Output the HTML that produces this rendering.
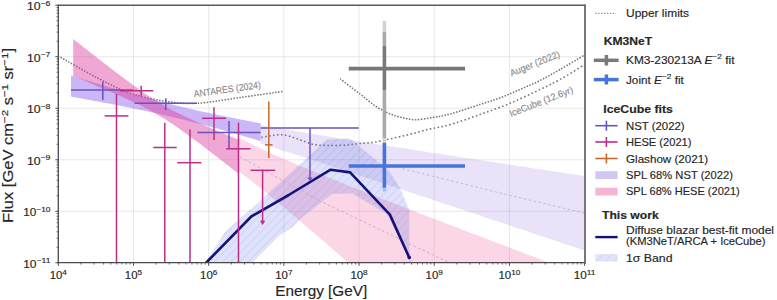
<!DOCTYPE html><html><head><meta charset="utf-8"><style>html,body{margin:0;padding:0;background:#fff;}svg{display:block;font-family:"Liberation Sans",sans-serif;}</style></head><body>
<svg width="777" height="300" viewBox="0 0 777 300">
<defs><clipPath id="pc"><rect x="58" y="5" width="526.3" height="258"/></clipPath><pattern id="hatch" patternUnits="userSpaceOnUse" width="6" height="6" patternTransform="rotate(45)"><line x1="0" y1="0" x2="0" y2="6" stroke="rgb(70,90,210)" stroke-opacity="0.2" stroke-width="1.1"/></pattern><pattern id="hatchL" patternUnits="userSpaceOnUse" width="6" height="6" patternTransform="rotate(45)"><rect width="6" height="6" fill="#dfe4fa"/><line x1="0" y1="0" x2="0" y2="6" stroke="#c2ccef" stroke-width="1.1"/></pattern></defs>
<g stroke="#e2e2e2" stroke-width="0.8"><line x1="133.49" y1="5.2" x2="133.49" y2="262.8"/><line x1="208.67" y1="5.2" x2="208.67" y2="262.8"/><line x1="283.86" y1="5.2" x2="283.86" y2="262.8"/><line x1="359.04" y1="5.2" x2="359.04" y2="262.8"/><line x1="434.23" y1="5.2" x2="434.23" y2="262.8"/><line x1="509.41" y1="5.2" x2="509.41" y2="262.8"/><line x1="58.3" y1="211.28" x2="584.6" y2="211.28"/><line x1="58.3" y1="159.76" x2="584.6" y2="159.76"/><line x1="58.3" y1="108.24" x2="584.6" y2="108.24"/><line x1="58.3" y1="56.72" x2="584.6" y2="56.72"/></g>
<g clip-path="url(#pc)">
<path d="M58.00,55.80 C64.67,59.55 86.00,72.10 98.00,78.30 C110.00,84.50 118.83,89.18 130.00,93.00 C141.17,96.82 153.83,99.48 165.00,101.20 C176.17,102.92 184.50,103.92 197.00,103.30 C209.50,102.68 225.62,99.48 240.00,97.50 C254.38,95.52 276.08,92.42 283.30,91.40" fill="none" stroke="#767676" stroke-width="1.55" stroke-dasharray="1.5,1.5" stroke-linecap="butt" stroke-linejoin="round"/>
<path d="M340.00,78.75 C343.33,81.29 354.00,89.38 360.00,94.00 C366.00,98.62 371.33,103.33 376.00,106.50 C380.67,109.67 384.00,111.25 388.00,113.00 C392.00,114.75 395.50,115.88 400.00,117.00 C404.50,118.12 409.33,119.67 415.00,119.70 C420.67,119.73 428.17,118.15 434.00,117.20 C439.83,116.25 442.33,116.12 450.00,114.00 C457.67,111.88 471.67,107.18 480.00,104.50 C488.33,101.82 493.33,100.40 500.00,97.90 C506.67,95.40 513.33,92.40 520.00,89.50 C526.67,86.60 533.33,83.83 540.00,80.50 C546.67,77.17 552.57,73.75 560.00,69.50 C567.43,65.25 580.50,57.42 584.60,55.00" fill="none" stroke="#767676" stroke-width="1.55" stroke-dasharray="1.5,1.5" stroke-linecap="butt" stroke-linejoin="round"/>
<path d="M261.20,137.40 C263.00,137.08 268.37,135.93 272.00,135.50 C275.63,135.07 279.17,134.38 283.00,134.80 C286.83,135.22 291.17,136.80 295.00,138.00 C298.83,139.20 302.33,140.83 306.00,142.00 C309.67,143.17 311.08,144.45 317.00,145.00 C322.92,145.55 334.33,145.55 341.50,145.30 C348.67,145.05 354.42,144.05 360.00,143.50 C365.58,142.95 367.50,143.33 375.00,142.00 C382.50,140.67 395.83,137.67 405.00,135.50 C414.17,133.33 422.50,130.80 430.00,129.00 C437.50,127.20 441.67,127.12 450.00,124.70 C458.33,122.28 470.00,118.07 480.00,114.50 C490.00,110.93 500.00,107.47 510.00,103.30 C520.00,99.13 531.67,93.47 540.00,89.50 C548.33,85.53 552.57,83.65 560.00,79.50 C567.43,75.35 580.50,67.08 584.60,64.60" fill="none" stroke="#767676" stroke-width="1.55" stroke-dasharray="1.6,2.4" stroke-linecap="butt" stroke-linejoin="round"/>
<polygon points="238.50,137.48 244.28,140.47 250.05,143.37 255.82,146.17 261.60,148.91 267.38,151.58 273.15,154.19 278.93,156.75 284.70,159.27 290.48,161.75 296.25,164.21 302.02,166.63 307.80,169.03 313.57,171.41 319.35,173.78 325.12,176.12 330.90,178.45 336.68,180.77 342.45,183.08 348.23,185.38 354.00,187.66 359.77,189.94 365.55,192.22 371.32,194.48 377.10,196.74 382.88,199.00 388.65,201.24 394.43,203.49 400.20,205.73 405.98,207.96 411.75,210.20 417.52,212.43 423.30,214.65 429.07,216.88 434.85,219.10 440.62,221.32 446.40,223.53 452.18,225.75 457.95,227.96 463.73,230.17 469.50,232.38 475.27,234.58 481.05,236.79 486.82,238.99 492.60,241.20 498.38,243.40 504.15,245.60 509.93,247.80 515.70,250.00 521.48,252.19 527.25,254.39 533.02,256.58 538.80,258.78 544.58,260.97 550.35,263.16 556.12,265.36 561.90,267.55 567.67,269.74 573.45,271.93 579.23,274.12 585.00,276.31 585.00,472.88 579.23,467.73 573.45,462.57 567.67,457.42 561.90,452.27 556.12,447.11 550.35,441.96 544.58,436.81 538.80,431.66 533.02,426.51 527.25,421.36 521.48,416.21 515.70,411.07 509.93,405.92 504.15,400.77 498.38,395.63 492.60,390.49 486.82,385.35 481.05,380.21 475.27,375.07 469.50,369.93 463.73,364.79 457.95,359.66 452.18,354.53 446.40,349.40 440.62,344.27 434.85,339.15 429.07,334.02 423.30,328.90 417.52,323.78 411.75,318.67 405.98,313.56 400.20,308.45 394.43,303.35 388.65,298.25 382.88,293.15 377.10,288.06 371.32,282.98 365.55,277.90 359.77,272.83 354.00,267.76 348.23,262.71 342.45,257.66 336.68,252.62 330.90,247.60 325.12,242.59 319.35,237.59 313.57,232.60 307.80,227.64 302.02,222.70 296.25,217.78 290.48,212.89 284.70,208.03 278.93,203.20 273.15,198.42 267.38,193.69 261.60,189.01 255.82,184.40 250.05,179.87 244.28,175.42 238.50,171.07" fill="rgb(240,90,160)" fill-opacity="0.25"/>
<polygon points="260.70,125.26 266.10,126.20 271.51,127.13 276.91,128.05 282.32,128.96 287.72,129.87 293.13,130.76 298.53,131.66 303.94,132.54 309.34,133.42 314.75,134.30 320.15,135.17 325.56,136.04 330.97,136.90 336.37,137.77 341.77,138.63 347.18,139.48 352.58,140.34 357.99,141.19 363.39,142.04 368.80,142.89 374.20,143.74 379.61,144.58 385.01,145.42 390.42,146.27 395.82,147.11 401.23,147.95 406.63,148.79 412.04,149.62 417.44,150.46 422.85,151.30 428.25,152.13 433.66,152.97 439.06,153.80 444.47,154.64 449.88,155.47 455.28,156.30 460.69,157.13 466.09,157.96 471.50,158.79 476.90,159.62 482.31,160.45 487.71,161.28 493.12,162.11 498.52,162.94 503.92,163.76 509.33,164.59 514.74,165.42 520.14,166.24 525.55,167.07 530.95,167.90 536.36,168.72 541.76,169.55 547.16,170.37 552.57,171.20 557.97,172.02 563.38,172.85 568.79,173.67 574.19,174.50 579.60,175.32 585.00,176.14 585.00,250.67 579.60,248.86 574.19,247.05 568.79,245.24 563.38,243.43 557.97,241.62 552.57,239.81 547.16,238.00 541.76,236.20 536.36,234.39 530.95,232.58 525.55,230.77 520.14,228.97 514.74,227.16 509.33,225.35 503.92,223.55 498.52,221.74 493.12,219.94 487.71,218.13 482.31,216.33 476.90,214.52 471.50,212.72 466.09,210.92 460.69,209.11 455.28,207.31 449.88,205.51 444.47,203.71 439.06,201.91 433.66,200.11 428.25,198.31 422.85,196.51 417.44,194.72 412.04,192.92 406.63,191.13 401.23,189.33 395.82,187.54 390.42,185.75 385.01,183.96 379.61,182.17 374.20,180.38 368.80,178.59 363.39,176.81 357.99,175.02 352.58,173.24 347.18,171.46 341.77,169.69 336.37,167.91 330.97,166.14 325.56,164.37 320.15,162.61 314.75,160.85 309.34,159.09 303.94,157.34 298.53,155.59 293.13,153.85 287.72,152.11 282.32,150.38 276.91,148.66 271.51,146.95 266.10,145.25 260.70,143.56" fill="rgb(147,112,219)" fill-opacity="0.2"/>
<polygon points="71.00,75.58 74.16,76.55 77.32,77.51 80.48,78.48 83.65,79.44 86.81,80.39 89.97,81.35 93.13,82.30 96.29,83.25 99.45,84.20 102.62,85.14 105.78,86.08 108.94,87.01 112.10,87.94 115.26,88.87 118.42,89.79 121.59,90.70 124.75,91.62 127.91,92.52 131.07,93.42 134.23,94.32 137.39,95.20 140.56,96.08 143.72,96.96 146.88,97.82 150.04,98.68 153.20,99.53 156.37,100.37 159.53,101.21 162.69,102.03 165.85,102.84 169.01,103.65 172.17,104.45 175.33,105.23 178.50,106.01 181.66,106.78 184.82,107.53 187.98,108.28 191.14,109.02 194.31,109.75 197.47,110.47 200.63,111.18 203.79,111.88 206.95,112.57 210.11,113.26 213.28,113.93 216.44,114.60 219.60,115.26 222.76,115.92 225.92,116.57 229.08,117.21 232.24,117.84 235.41,118.47 238.57,119.10 241.73,119.72 244.89,120.33 248.05,120.95 251.22,121.55 254.38,122.15 257.54,122.75 260.70,123.35 260.70,141.16 257.54,140.22 254.38,139.28 251.22,138.34 248.05,137.41 244.89,136.48 241.73,135.55 238.57,134.64 235.41,133.72 232.24,132.81 229.08,131.91 225.92,131.01 222.76,130.12 219.60,129.24 216.44,128.36 213.28,127.49 210.11,126.63 206.95,125.77 203.79,124.93 200.63,124.09 197.47,123.26 194.31,122.44 191.14,121.63 187.98,120.83 184.82,120.04 181.66,119.26 178.50,118.48 175.33,117.72 172.17,116.97 169.01,116.23 165.85,115.49 162.69,114.77 159.53,114.05 156.37,113.35 153.20,112.65 150.04,111.96 146.88,111.28 143.72,110.61 140.56,109.94 137.39,109.28 134.23,108.63 131.07,107.98 127.91,107.35 124.75,106.71 121.59,106.08 118.42,105.46 115.26,104.84 112.10,104.23 108.94,103.62 105.78,103.02 102.62,102.42 99.45,101.82 96.29,101.23 93.13,100.64 89.97,100.05 86.81,99.46 83.65,98.88 80.48,98.30 77.32,97.73 74.16,97.15 71.00,96.58" fill="rgb(140,95,235)" fill-opacity="0.45"/>
<polygon points="73.20,39.02 75.95,41.19 78.71,43.36 81.47,45.52 84.22,47.68 86.98,49.84 89.73,52.00 92.49,54.15 95.24,56.30 98.00,58.44 100.75,60.58 103.51,62.72 106.26,64.84 109.02,66.97 111.77,69.08 114.53,71.19 117.28,73.29 120.04,75.37 122.79,77.45 125.55,79.51 128.30,81.56 131.06,83.59 133.81,85.60 136.56,87.59 139.32,89.55 142.07,91.48 144.83,93.39 147.59,95.26 150.34,97.09 153.10,98.88 155.85,100.62 158.61,102.32 161.36,103.97 164.12,105.58 166.87,107.14 169.62,108.66 172.38,110.13 175.13,111.57 177.89,112.97 180.65,114.34 183.40,115.68 186.16,117.00 188.91,118.30 191.67,119.57 194.42,120.83 197.18,122.08 199.93,123.31 202.69,124.53 205.44,125.74 208.19,126.93 210.95,128.13 213.71,129.31 216.46,130.49 219.22,131.66 221.97,132.83 224.73,133.99 227.48,135.15 230.24,136.30 232.99,137.45 235.75,138.60 238.50,139.75 238.50,173.71 235.75,171.55 232.99,169.39 230.24,167.24 227.48,165.08 224.73,162.93 221.97,160.79 219.22,158.65 216.46,156.52 213.71,154.39 210.95,152.27 208.19,150.15 205.44,148.04 202.69,145.95 199.93,143.86 197.18,141.78 194.42,139.72 191.67,137.67 188.91,135.64 186.16,133.63 183.40,131.64 180.65,129.68 177.89,127.74 175.13,125.84 172.38,123.97 169.62,122.14 166.87,120.35 164.12,118.60 161.36,116.90 158.61,115.25 155.85,113.64 153.10,112.08 150.34,110.56 147.59,109.08 144.83,107.65 142.07,106.24 139.32,104.87 136.56,103.53 133.81,102.21 131.06,100.92 128.30,99.64 125.55,98.38 122.79,97.13 120.04,95.90 117.28,94.68 114.53,93.48 111.77,92.28 109.02,91.08 106.26,89.90 103.51,88.72 100.75,87.55 98.00,86.38 95.24,85.22 92.49,84.06 89.73,82.91 86.98,81.76 84.22,80.61 81.47,79.46 78.71,78.32 75.95,77.18 73.20,76.04" fill="rgb(220,60,160)" fill-opacity="0.45"/>
<polygon points="205.00,263.00 225.00,232.00 261.00,200.00 327.00,139.50 350.00,138.50 378.00,161.70 389.00,171.00 400.00,188.00 409.30,210.00 409.30,246.50 411.00,263.00 407.90,257.60 387.00,214.00 352.00,193.50 332.00,194.00 300.00,219.00 293.00,227.00 280.00,235.00 252.00,263.00" fill="rgb(85,100,230)" fill-opacity="0.19"/>
<polygon points="205.00,263.00 225.00,232.00 261.00,200.00 327.00,139.50 350.00,138.50 378.00,161.70 389.00,171.00 400.00,188.00 409.30,210.00 409.30,246.50 411.00,263.00 407.90,257.60 387.00,214.00 352.00,193.50 332.00,194.00 300.00,219.00 293.00,227.00 280.00,235.00 252.00,263.00" fill="url(#hatch)"/>
<polyline points="240,157 320,201 420,248.75 450,263" fill="none" stroke="#c8a0b8" stroke-width="0.8" stroke-dasharray="2.5,2.5"/>
<polyline points="402.5,168.75 420,173 500,193 584,213" fill="none" stroke="#b8aed6" stroke-width="0.8" stroke-dasharray="2.5,2.5"/>
<polyline points="205.9,263 251.3,216.5 288.75,195 330.6,169.7 350.1,172.4 389.9,214.6 409.25,257.6" fill="none" stroke="#141478" stroke-width="2.6" stroke-linejoin="round"/>
<circle cx="409.25" cy="257.6" r="1.8" fill="#141478"/>
</g>
<g stroke="#6c52c0" stroke-width="1.5"><line x1="71" y1="90" x2="133.3" y2="90"/><line x1="102.8" y1="81.7" x2="102.8" y2="100"/></g>
<g stroke="#6c52c0" stroke-width="1.5"><line x1="134.6" y1="103.2" x2="197" y2="103.2"/><line x1="165.8" y1="98.3" x2="165.8" y2="110.2"/></g>
<g stroke="#6c52c0" stroke-width="1.5"><line x1="197.3" y1="132.5" x2="260.7" y2="132.5"/><line x1="229" y1="121" x2="229" y2="148.4"/></g>
<g stroke="#6c52c0" stroke-width="1.5"><line x1="260.7" y1="127.9" x2="358.75" y2="127.9"/><line x1="310" y1="127.9" x2="310" y2="178.5"/></g>
<g stroke="#bb2e88" stroke-width="1.5"><line x1="120" y1="90.8" x2="153.3" y2="90.8"/><line x1="141.2" y1="85.8" x2="141.2" y2="95.8"/></g>
<g stroke="#bb2e88" stroke-width="1.5"><line x1="104.6" y1="115.9" x2="128.4" y2="115.9"/><line x1="116.5" y1="94" x2="116.5" y2="263"/></g>
<g stroke="#bb2e88" stroke-width="1.5"><line x1="153.3" y1="147.5" x2="176.7" y2="147.5"/><line x1="164.8" y1="123" x2="164.8" y2="263"/></g>
<g stroke="#bb2e88" stroke-width="1.5"><line x1="177.2" y1="162.7" x2="201.4" y2="162.7"/><line x1="190" y1="129.5" x2="190" y2="263"/></g>
<g stroke="#bb2e88" stroke-width="1.5"><line x1="202" y1="118.3" x2="226" y2="118.3"/><line x1="214" y1="107.3" x2="214" y2="140"/></g>
<g stroke="#bb2e88" stroke-width="1.5"><line x1="226.2" y1="148.8" x2="250.5" y2="148.8"/><line x1="238.5" y1="122.75" x2="238.5" y2="263"/></g>
<g stroke="#bb2e88" stroke-width="1.5"><line x1="250.5" y1="170.3" x2="275.2" y2="170.3"/><line x1="262.6" y1="170.3" x2="262.6" y2="222"/></g>
<polygon points="259.9,220.8 265.3,220.8 262.6,225" fill="#bb2e88"/>
<polygon points="307.4,177.4 312.6,177.4 310,181.2" fill="#6c52c0"/>
<g stroke="#c8692e" stroke-width="1.5"><line x1="265" y1="144.8" x2="272.5" y2="144.8"/><line x1="268.8" y1="101.4" x2="268.8" y2="158"/></g>
<g stroke-width="3.6"><line x1="384.4" y1="20.8" x2="384.4" y2="31.7" stroke="#d2d2d2"/><line x1="384.4" y1="31.7" x2="384.4" y2="45.8" stroke="#a9a9a9"/><line x1="384.4" y1="45.8" x2="384.4" y2="90" stroke="#7a7a7a"/><line x1="384.4" y1="90" x2="384.4" y2="138" stroke="#aaaaaa"/><line x1="384.4" y1="138" x2="384.4" y2="142.7" stroke="#d0d0d0"/><line x1="348.75" y1="68.6" x2="465" y2="68.6" stroke="#777777"/><line x1="384.4" y1="187.7" x2="384.4" y2="191.5" stroke="#a9c0ec"/><line x1="384.4" y1="142.7" x2="384.4" y2="187.7" stroke="#4474dc"/><line x1="348.75" y1="166" x2="465" y2="166" stroke="#4474dc"/></g>
<g fill="#8a8a8a" stroke="#8a8a8a" stroke-width="0.15" font-size="9.6">
<text transform="translate(194.2,97.3) rotate(-8)" textLength="67.5" lengthAdjust="spacingAndGlyphs">ANTARES (2024)</text>
<text transform="translate(511.5,76.5) rotate(-22)" textLength="53" lengthAdjust="spacingAndGlyphs">Auger (2022)</text>
<text transform="translate(511,117) rotate(-21.5)" textLength="67.5" lengthAdjust="spacingAndGlyphs">IceCube (12.6yr)</text>
</g>
<g stroke="#4a4a4a" stroke-width="1.3" fill="none"><line x1="58.3" y1="5.2" x2="58.3" y2="262.7"/><line x1="57.65" y1="262.7" x2="585.6" y2="262.7"/><line x1="57.65" y1="5.2" x2="585.6" y2="5.2" stroke="#5a5a5a" stroke-width="1.6"/><line x1="585" y1="4.4" x2="585" y2="263.4" stroke="#6a6a6a" stroke-width="1.8"/></g>
<g stroke="#3a3a3a" stroke-width="0.9"><line x1="58.30" y1="262.8" x2="58.30" y2="265.8"/><line x1="133.49" y1="262.8" x2="133.49" y2="265.8"/><line x1="208.67" y1="262.8" x2="208.67" y2="265.8"/><line x1="283.86" y1="262.8" x2="283.86" y2="265.8"/><line x1="359.04" y1="262.8" x2="359.04" y2="265.8"/><line x1="434.23" y1="262.8" x2="434.23" y2="265.8"/><line x1="509.41" y1="262.8" x2="509.41" y2="265.8"/><line x1="584.60" y1="262.8" x2="584.60" y2="265.8"/><line x1="80.93" y1="262.8" x2="80.93" y2="264.6" stroke-width="0.7"/><line x1="94.17" y1="262.8" x2="94.17" y2="264.6" stroke-width="0.7"/><line x1="103.57" y1="262.8" x2="103.57" y2="264.6" stroke-width="0.7"/><line x1="110.85" y1="262.8" x2="110.85" y2="264.6" stroke-width="0.7"/><line x1="116.81" y1="262.8" x2="116.81" y2="264.6" stroke-width="0.7"/><line x1="121.84" y1="262.8" x2="121.84" y2="264.6" stroke-width="0.7"/><line x1="126.20" y1="262.8" x2="126.20" y2="264.6" stroke-width="0.7"/><line x1="130.05" y1="262.8" x2="130.05" y2="264.6" stroke-width="0.7"/><line x1="156.12" y1="262.8" x2="156.12" y2="264.6" stroke-width="0.7"/><line x1="169.36" y1="262.8" x2="169.36" y2="264.6" stroke-width="0.7"/><line x1="178.75" y1="262.8" x2="178.75" y2="264.6" stroke-width="0.7"/><line x1="186.04" y1="262.8" x2="186.04" y2="264.6" stroke-width="0.7"/><line x1="191.99" y1="262.8" x2="191.99" y2="264.6" stroke-width="0.7"/><line x1="197.03" y1="262.8" x2="197.03" y2="264.6" stroke-width="0.7"/><line x1="201.39" y1="262.8" x2="201.39" y2="264.6" stroke-width="0.7"/><line x1="205.23" y1="262.8" x2="205.23" y2="264.6" stroke-width="0.7"/><line x1="231.30" y1="262.8" x2="231.30" y2="264.6" stroke-width="0.7"/><line x1="244.54" y1="262.8" x2="244.54" y2="264.6" stroke-width="0.7"/><line x1="253.94" y1="262.8" x2="253.94" y2="264.6" stroke-width="0.7"/><line x1="261.22" y1="262.8" x2="261.22" y2="264.6" stroke-width="0.7"/><line x1="267.18" y1="262.8" x2="267.18" y2="264.6" stroke-width="0.7"/><line x1="272.21" y1="262.8" x2="272.21" y2="264.6" stroke-width="0.7"/><line x1="276.57" y1="262.8" x2="276.57" y2="264.6" stroke-width="0.7"/><line x1="280.42" y1="262.8" x2="280.42" y2="264.6" stroke-width="0.7"/><line x1="306.49" y1="262.8" x2="306.49" y2="264.6" stroke-width="0.7"/><line x1="319.73" y1="262.8" x2="319.73" y2="264.6" stroke-width="0.7"/><line x1="329.12" y1="262.8" x2="329.12" y2="264.6" stroke-width="0.7"/><line x1="336.41" y1="262.8" x2="336.41" y2="264.6" stroke-width="0.7"/><line x1="342.36" y1="262.8" x2="342.36" y2="264.6" stroke-width="0.7"/><line x1="347.40" y1="262.8" x2="347.40" y2="264.6" stroke-width="0.7"/><line x1="351.76" y1="262.8" x2="351.76" y2="264.6" stroke-width="0.7"/><line x1="355.60" y1="262.8" x2="355.60" y2="264.6" stroke-width="0.7"/><line x1="381.68" y1="262.8" x2="381.68" y2="264.6" stroke-width="0.7"/><line x1="394.92" y1="262.8" x2="394.92" y2="264.6" stroke-width="0.7"/><line x1="404.31" y1="262.8" x2="404.31" y2="264.6" stroke-width="0.7"/><line x1="411.60" y1="262.8" x2="411.60" y2="264.6" stroke-width="0.7"/><line x1="417.55" y1="262.8" x2="417.55" y2="264.6" stroke-width="0.7"/><line x1="422.58" y1="262.8" x2="422.58" y2="264.6" stroke-width="0.7"/><line x1="426.94" y1="262.8" x2="426.94" y2="264.6" stroke-width="0.7"/><line x1="430.79" y1="262.8" x2="430.79" y2="264.6" stroke-width="0.7"/><line x1="456.86" y1="262.8" x2="456.86" y2="264.6" stroke-width="0.7"/><line x1="470.10" y1="262.8" x2="470.10" y2="264.6" stroke-width="0.7"/><line x1="479.49" y1="262.8" x2="479.49" y2="264.6" stroke-width="0.7"/><line x1="486.78" y1="262.8" x2="486.78" y2="264.6" stroke-width="0.7"/><line x1="492.73" y1="262.8" x2="492.73" y2="264.6" stroke-width="0.7"/><line x1="497.77" y1="262.8" x2="497.77" y2="264.6" stroke-width="0.7"/><line x1="502.13" y1="262.8" x2="502.13" y2="264.6" stroke-width="0.7"/><line x1="505.97" y1="262.8" x2="505.97" y2="264.6" stroke-width="0.7"/><line x1="532.05" y1="262.8" x2="532.05" y2="264.6" stroke-width="0.7"/><line x1="545.29" y1="262.8" x2="545.29" y2="264.6" stroke-width="0.7"/><line x1="554.68" y1="262.8" x2="554.68" y2="264.6" stroke-width="0.7"/><line x1="561.97" y1="262.8" x2="561.97" y2="264.6" stroke-width="0.7"/><line x1="567.92" y1="262.8" x2="567.92" y2="264.6" stroke-width="0.7"/><line x1="572.95" y1="262.8" x2="572.95" y2="264.6" stroke-width="0.7"/><line x1="577.31" y1="262.8" x2="577.31" y2="264.6" stroke-width="0.7"/><line x1="581.16" y1="262.8" x2="581.16" y2="264.6" stroke-width="0.7"/><line x1="55.3" y1="262.80" x2="58.3" y2="262.80"/><line x1="55.3" y1="211.28" x2="58.3" y2="211.28"/><line x1="55.3" y1="159.76" x2="58.3" y2="159.76"/><line x1="55.3" y1="108.24" x2="58.3" y2="108.24"/><line x1="55.3" y1="56.72" x2="58.3" y2="56.72"/><line x1="55.3" y1="5.20" x2="58.3" y2="5.20"/><line x1="56.5" y1="247.29" x2="58.3" y2="247.29" stroke-width="0.7"/><line x1="56.5" y1="238.22" x2="58.3" y2="238.22" stroke-width="0.7"/><line x1="56.5" y1="231.78" x2="58.3" y2="231.78" stroke-width="0.7"/><line x1="56.5" y1="226.79" x2="58.3" y2="226.79" stroke-width="0.7"/><line x1="56.5" y1="222.71" x2="58.3" y2="222.71" stroke-width="0.7"/><line x1="56.5" y1="219.26" x2="58.3" y2="219.26" stroke-width="0.7"/><line x1="56.5" y1="216.27" x2="58.3" y2="216.27" stroke-width="0.7"/><line x1="56.5" y1="213.64" x2="58.3" y2="213.64" stroke-width="0.7"/><line x1="56.5" y1="195.77" x2="58.3" y2="195.77" stroke-width="0.7"/><line x1="56.5" y1="186.70" x2="58.3" y2="186.70" stroke-width="0.7"/><line x1="56.5" y1="180.26" x2="58.3" y2="180.26" stroke-width="0.7"/><line x1="56.5" y1="175.27" x2="58.3" y2="175.27" stroke-width="0.7"/><line x1="56.5" y1="171.19" x2="58.3" y2="171.19" stroke-width="0.7"/><line x1="56.5" y1="167.74" x2="58.3" y2="167.74" stroke-width="0.7"/><line x1="56.5" y1="164.75" x2="58.3" y2="164.75" stroke-width="0.7"/><line x1="56.5" y1="162.12" x2="58.3" y2="162.12" stroke-width="0.7"/><line x1="56.5" y1="144.25" x2="58.3" y2="144.25" stroke-width="0.7"/><line x1="56.5" y1="135.18" x2="58.3" y2="135.18" stroke-width="0.7"/><line x1="56.5" y1="128.74" x2="58.3" y2="128.74" stroke-width="0.7"/><line x1="56.5" y1="123.75" x2="58.3" y2="123.75" stroke-width="0.7"/><line x1="56.5" y1="119.67" x2="58.3" y2="119.67" stroke-width="0.7"/><line x1="56.5" y1="116.22" x2="58.3" y2="116.22" stroke-width="0.7"/><line x1="56.5" y1="113.23" x2="58.3" y2="113.23" stroke-width="0.7"/><line x1="56.5" y1="110.60" x2="58.3" y2="110.60" stroke-width="0.7"/><line x1="56.5" y1="92.73" x2="58.3" y2="92.73" stroke-width="0.7"/><line x1="56.5" y1="83.66" x2="58.3" y2="83.66" stroke-width="0.7"/><line x1="56.5" y1="77.22" x2="58.3" y2="77.22" stroke-width="0.7"/><line x1="56.5" y1="72.23" x2="58.3" y2="72.23" stroke-width="0.7"/><line x1="56.5" y1="68.15" x2="58.3" y2="68.15" stroke-width="0.7"/><line x1="56.5" y1="64.70" x2="58.3" y2="64.70" stroke-width="0.7"/><line x1="56.5" y1="61.71" x2="58.3" y2="61.71" stroke-width="0.7"/><line x1="56.5" y1="59.08" x2="58.3" y2="59.08" stroke-width="0.7"/><line x1="56.5" y1="41.21" x2="58.3" y2="41.21" stroke-width="0.7"/><line x1="56.5" y1="32.14" x2="58.3" y2="32.14" stroke-width="0.7"/><line x1="56.5" y1="25.70" x2="58.3" y2="25.70" stroke-width="0.7"/><line x1="56.5" y1="20.71" x2="58.3" y2="20.71" stroke-width="0.7"/><line x1="56.5" y1="16.63" x2="58.3" y2="16.63" stroke-width="0.7"/><line x1="56.5" y1="13.18" x2="58.3" y2="13.18" stroke-width="0.7"/><line x1="56.5" y1="10.19" x2="58.3" y2="10.19" stroke-width="0.7"/><line x1="56.5" y1="7.56" x2="58.3" y2="7.56" stroke-width="0.7"/></g>
<g fill="#262626" stroke="#262626" stroke-width="0.15" font-size="10.6">
<text x="58.30" y="279.3" text-anchor="middle" textLength="17.2" lengthAdjust="spacingAndGlyphs">10<tspan font-size="7.6" dy="-4.6">4</tspan></text>
<text x="133.49" y="279.3" text-anchor="middle" textLength="17.2" lengthAdjust="spacingAndGlyphs">10<tspan font-size="7.6" dy="-4.6">5</tspan></text>
<text x="208.67" y="279.3" text-anchor="middle" textLength="17.2" lengthAdjust="spacingAndGlyphs">10<tspan font-size="7.6" dy="-4.6">6</tspan></text>
<text x="283.86" y="279.3" text-anchor="middle" textLength="17.2" lengthAdjust="spacingAndGlyphs">10<tspan font-size="7.6" dy="-4.6">7</tspan></text>
<text x="359.04" y="279.3" text-anchor="middle" textLength="17.2" lengthAdjust="spacingAndGlyphs">10<tspan font-size="7.6" dy="-4.6">8</tspan></text>
<text x="434.23" y="279.3" text-anchor="middle" textLength="17.2" lengthAdjust="spacingAndGlyphs">10<tspan font-size="7.6" dy="-4.6">9</tspan></text>
<text x="509.41" y="279.3" text-anchor="middle" textLength="21.8" lengthAdjust="spacingAndGlyphs">10<tspan font-size="7.6" dy="-4.6">10</tspan></text>
<text x="584.60" y="279.3" text-anchor="middle" textLength="21.8" lengthAdjust="spacingAndGlyphs">10<tspan font-size="7.6" dy="-4.6">11</tspan></text>
<text x="50.5" y="267.70" text-anchor="end" textLength="27.3" lengthAdjust="spacingAndGlyphs">10<tspan font-size="7.6" dy="-4.6">−11</tspan></text>
<text x="50.5" y="216.18" text-anchor="end" textLength="27.3" lengthAdjust="spacingAndGlyphs">10<tspan font-size="7.6" dy="-4.6">−10</tspan></text>
<text x="50.5" y="164.66" text-anchor="end" textLength="23.6" lengthAdjust="spacingAndGlyphs">10<tspan font-size="7.6" dy="-4.6">−9</tspan></text>
<text x="50.5" y="113.14" text-anchor="end" textLength="23.6" lengthAdjust="spacingAndGlyphs">10<tspan font-size="7.6" dy="-4.6">−8</tspan></text>
<text x="50.5" y="61.62" text-anchor="end" textLength="23.6" lengthAdjust="spacingAndGlyphs">10<tspan font-size="7.6" dy="-4.6">−7</tspan></text>
<text x="50.5" y="10.10" text-anchor="end" textLength="23.6" lengthAdjust="spacingAndGlyphs">10<tspan font-size="7.6" dy="-4.6">−6</tspan></text>
</g>
<text x="321.3" y="295.5" text-anchor="middle" font-size="14" fill="#262626" stroke="#262626" stroke-width="0.15" textLength="92" lengthAdjust="spacingAndGlyphs">Energy [GeV]</text>
<text transform="translate(13.3,135.4) rotate(-90)" text-anchor="middle" font-size="14" fill="#262626" stroke="#262626" stroke-width="0.15" textLength="175" lengthAdjust="spacingAndGlyphs">Flux [GeV cm<tspan font-size="9.8" dy="-5">−2</tspan><tspan dy="5"> s</tspan><tspan font-size="9.8" dy="-5">−1</tspan><tspan dy="5"> sr</tspan><tspan font-size="9.8" dy="-5">−1</tspan><tspan dy="5">]</tspan></text>
<g fill="#262626" font-size="10.7"><line x1="595.3" y1="13.3" x2="616.1" y2="13.3" stroke="#8a8a8a" stroke-width="1.2" stroke-dasharray="1.3,1.6"/><text x="626.0" y="16.60" stroke="#262626" stroke-width="0.15" textLength="63.1" lengthAdjust="spacingAndGlyphs">Upper limits</text><text x="603.7" y="44.80" font-weight="bold" stroke="#262626" stroke-width="0.15" textLength="48.5" lengthAdjust="spacingAndGlyphs">KM3NeT</text><g stroke="#7a7a7a" stroke-width="3.5"><line x1="593.8" y1="60.3" x2="618.6" y2="60.3"/><line x1="606.4" y1="55" x2="606.4" y2="65.5"/></g><text x="626.0" y="63.80" stroke="#262626" stroke-width="0.15" textLength="108.5" lengthAdjust="spacingAndGlyphs">KM3-230213A <tspan font-style="italic">E</tspan><tspan font-size="7.6" dy="-4.6">−2</tspan><tspan dy="4.6"> fit</tspan></text><g stroke="#4474dc" stroke-width="3.5"><line x1="593.8" y1="79.6" x2="618.6" y2="79.6"/><line x1="606.4" y1="74.5" x2="606.4" y2="84.5"/></g><text x="626.0" y="83.50" stroke="#262626" stroke-width="0.15" textLength="57.8" lengthAdjust="spacingAndGlyphs">Joint <tspan font-style="italic">E</tspan><tspan font-size="7.6" dy="-4.6">−2</tspan><tspan dy="4.6"> fit</tspan></text><text x="603.3" y="113.30" font-weight="bold" stroke="#262626" stroke-width="0.15" textLength="69.5" lengthAdjust="spacingAndGlyphs">IceCube fits</text><g stroke="#6c52c0" stroke-width="1.6"><line x1="595.3" y1="125.7" x2="617.6" y2="125.7"/><line x1="606.4" y1="120.7" x2="606.4" y2="130.7"/></g><text x="626.0" y="130.00" stroke="#262626" stroke-width="0.15" textLength="58.6" lengthAdjust="spacingAndGlyphs">NST (2022)</text><g stroke="#bb2e88" stroke-width="1.6"><line x1="595.3" y1="142" x2="617.6" y2="142"/><line x1="606.4" y1="137" x2="606.4" y2="147"/></g><text x="626.0" y="146.40" stroke="#262626" stroke-width="0.15" textLength="65.5" lengthAdjust="spacingAndGlyphs">HESE (2021)</text><g stroke="#c8692e" stroke-width="1.6"><line x1="595.3" y1="158.5" x2="617.6" y2="158.5"/><line x1="606.4" y1="153.5" x2="606.4" y2="163.5"/></g><text x="626.0" y="162.70" stroke="#262626" stroke-width="0.15" textLength="82.1" lengthAdjust="spacingAndGlyphs">Glashow (2021)</text><rect x="595.3" y="171.2" width="22.300000000000068" height="7.8" fill="#d2c6f2"/><text x="626.0" y="179.00" stroke="#262626" stroke-width="0.15" textLength="107" lengthAdjust="spacingAndGlyphs">SPL 68% NST (2022)</text><rect x="595.3" y="187.7" width="22.300000000000068" height="7.8" fill="#f4b6d4"/><text x="626.0" y="195.40" stroke="#262626" stroke-width="0.15" textLength="113.8" lengthAdjust="spacingAndGlyphs">SPL 68% HESE (2021)</text><text x="602" y="219.10" font-weight="bold" stroke="#262626" stroke-width="0.15" textLength="56.7" lengthAdjust="spacingAndGlyphs">This work</text><line x1="595.3" y1="237.1" x2="617.6" y2="237.1" stroke="#10107a" stroke-width="2.4"/><text x="626.0" y="234.10" stroke="#262626" stroke-width="0.15" textLength="148" lengthAdjust="spacingAndGlyphs">Diffuse blazar best-fit model</text><text x="626.0" y="245.30" stroke="#262626" stroke-width="0.15" textLength="139.5" lengthAdjust="spacingAndGlyphs">(KM3NeT/ARCA + IceCube)</text><rect x="595.3" y="254.1" width="22.300000000000068" height="7.4" fill="url(#hatchL)"/><text x="626.0" y="261.50" stroke="#262626" stroke-width="0.15" textLength="46.5" lengthAdjust="spacingAndGlyphs">1σ Band</text></g>
</svg></body></html>
